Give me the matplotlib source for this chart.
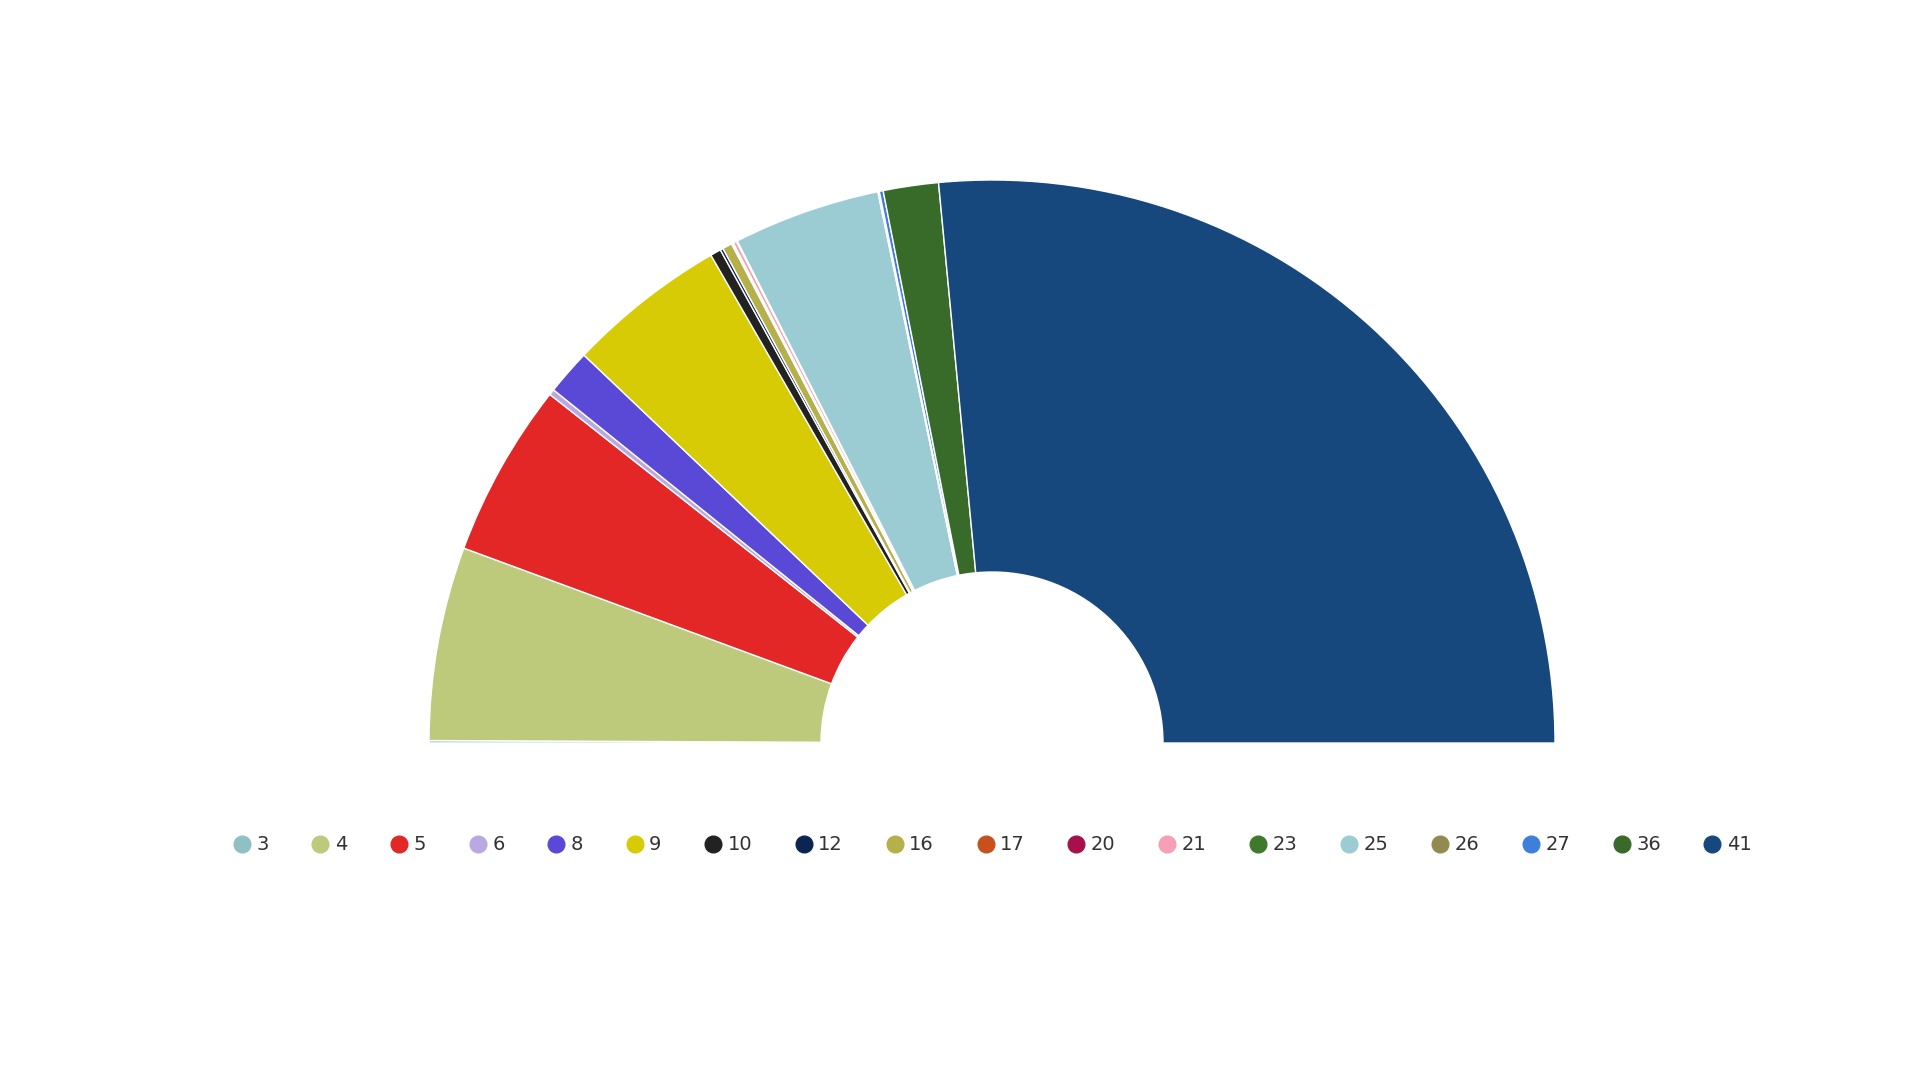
import matplotlib
matplotlib.use("Agg")
import matplotlib.pyplot as plt
from matplotlib.lines import Line2D

labels = ["3", "4", "5", "6", "8", "9", "10", "12", "16", "17", "20", "21", "23", "25", "26", "27", "36", "41"]
values = [0.25, 20.0, 18.0, 0.6, 4.7, 16.5, 1.1, 0.3, 1.0, 0.1, 0.1, 0.35, 0.1, 15.2, 0.15, 0.4, 5.7, 95.45]
colors = ["#8fc0c4", "#bdca7c", "#e32626", "#b9a9e0", "#5a48d6", "#d6cb05", "#222222", "#0c2550",
          "#b5b04a", "#c8501c", "#a8104c", "#f5a0b4", "#3f7a2c", "#9bcbd3", "#928a4e", "#3f7fdc",
          "#386b2a", "#16477d"]

fig = plt.figure(figsize=(19.2, 10.8), dpi=100)
ax = fig.add_axes([0, 0, 1, 1])

total = sum(values)
wedges, _ = ax.pie(values + [total], colors=colors + ["none"], startangle=180, counterclock=False,
                   center=(992, 337), radius=563,
                   wedgeprops=dict(width=563 - 171, edgecolor="white", linewidth=1.0))
wedges[-1].set_edgecolor("none")
ax.set_xlim(0, 1920)
ax.set_ylim(0, 1080)
ax.set_aspect("equal")
ax.axis("off")

handles = [Line2D([], [], marker="o", linestyle="none", markersize=12, markerfacecolor=c,
                  markeredgecolor=c) for c in colors]
leg = fig.legend(handles, labels, loc="center", bbox_to_anchor=(992 / 1920, 1 - 845 / 1080),
                 ncol=len(labels), frameon=False, fontsize=14, handletextpad=0.25,
                 columnspacing=2.15, handlelength=1.0, labelcolor="#333333")

fig.savefig("out.png", dpi=100, facecolor="white")
